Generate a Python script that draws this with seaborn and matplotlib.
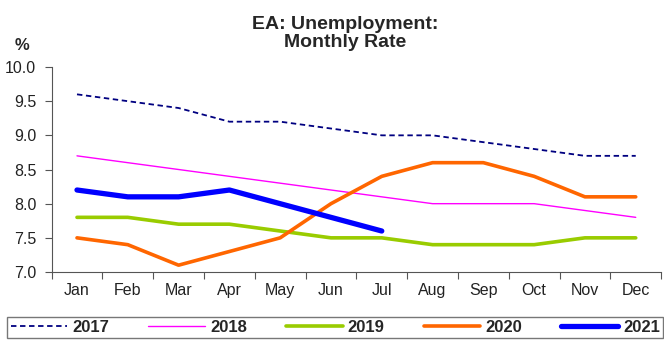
import pandas as pd
import matplotlib.pyplot as plt
import seaborn as sns

months = ['Jan', 'Feb', 'Mar', 'Apr', 'May', 'Jun', 'Jul', 'Aug', 'Sep', 'Oct', 'Nov', 'Dec']
y2017 = [9.6, 9.5, 9.4, 9.2, 9.2, 9.1, 9.0, 9.0, 8.9, 8.8, 8.7, 8.7]
y2018 = [8.7, 8.6, 8.5, 8.4, 8.3, 8.2, 8.1, 8.0, 8.0, 8.0, 7.9, 7.8]
y2019 = [7.8, 7.8, 7.7, 7.7, 7.6, 7.5, 7.5, 7.4, 7.4, 7.4, 7.5, 7.5]
y2020 = [7.5, 7.4, 7.1, 7.3, 7.5, 8.0, 8.4, 8.6, 8.6, 8.4, 8.1, 8.1]
y2021 = [8.2, 8.1, 8.1, 8.2, 8.0, 7.8, 7.6]

series = {'2017': y2017, '2018': y2018, '2019': y2019, '2020': y2020, '2021': y2021}
styles = {
    '2017': dict(color='#000080', lw=1.3, ls=(0, (3, 2))),
    '2018': dict(color='#FF00FF', lw=1.0, ls='-'),
    '2019': dict(color='#99CC00', lw=2.6, ls='-'),
    '2020': dict(color='#FF6600', lw=2.6, ls='-'),
    '2021': dict(color='#0000FF', lw=3.8, ls='-'),
}

sns.set_style('white')
plt.rcParams['font.family'] = ['Liberation Sans', 'DejaVu Sans']

fig = plt.figure(figsize=(6.64, 3.49), dpi=100)
ax = fig.add_axes([0.0777, 0.2206, 0.918, 0.5874])

for name, vals in series.items():
    df = pd.DataFrame({'x': range(len(vals)), 'y': vals})
    st = styles[name]
    sns.lineplot(data=df, x='x', y='y', ax=ax, color=st['color'], linewidth=st['lw'],
                 linestyle=st['ls'], label=name, legend=False)

yt = [7.0, 7.5, 8.0, 8.5, 9.0, 9.5, 10.0]
ax.set_xlim(-0.5, 11.5)
ax.set_ylim(7.0, 10.0)
ax.set_yticks(yt)
ax.set_yticklabels([f'{v:.1f}' for v in yt], fontsize=11.5, color='#222222')
ax.set_xticks(range(12))
ax.set_xticklabels(months, fontsize=11.5, color='#222222')
ax.set_xticks([i - 0.5 for i in range(13)], minor=True)
ax.tick_params(axis='x', which='major', length=0, pad=8)
ax.tick_params(axis='x', which='minor', length=5, width=0.8, color='#555555', bottom=True)
ax.tick_params(axis='y', length=5, width=0.8, color='#555555', left=True, pad=6)
ax.set_xlabel('')
ax.set_ylabel('')
for s in ['top', 'right']:
    ax.spines[s].set_visible(False)
for s in ['left', 'bottom']:
    ax.spines[s].set_color('#555555')
    ax.spines[s].set_linewidth(0.8)

fig.text(0.52, 0.905, 'EA: Unemployment:\nMonthly Rate', ha='center', va='center',
         fontsize=14, fontweight='bold', linespacing=1.1)
fig.text(0.033, 0.87, '%', ha='center', va='center', fontsize=12, fontweight='bold')

handles, labels = ax.get_legend_handles_labels()
leg = fig.legend(handles, labels, loc='center', bbox_to_anchor=(0.505, 0.062), ncol=5,
                 frameon=True, fancybox=False, handlelength=3.4, columnspacing=2.35,
                 handletextpad=0.3, borderpad=0.2, borderaxespad=0,
                 prop={'weight': 'bold', 'size': 12})
leg.get_frame().set_edgecolor('#555555')
leg.get_frame().set_linewidth(1.0)

fig.savefig('out.png', dpi=100)
